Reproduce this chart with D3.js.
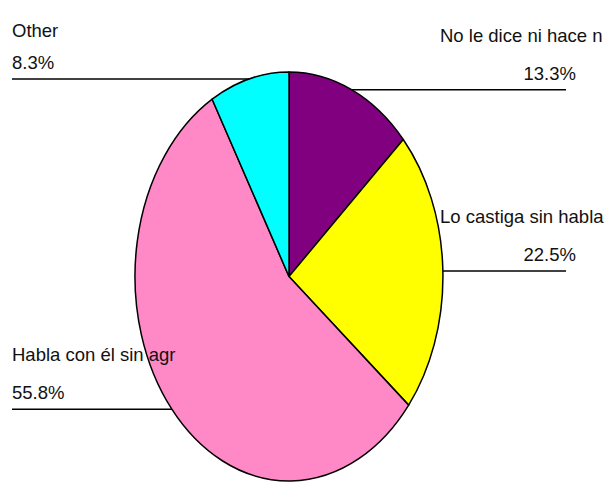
<!DOCTYPE html>
<html>
<head>
<meta charset="utf-8">
<script src="https://cdn.jsdelivr.net/npm/d3@7"></script>
<style>
  html, body { margin: 0; padding: 0; background: #ffffff; }
  svg { display: block; }
  text { font-family: "Liberation Sans", Arial, sans-serif; font-size: 18.5px; fill: #111; }
</style>
</head>
<body>
<svg id="chart" width="609" height="482"></svg>
<script>
// Slice labels (truncated to 20 characters) and their shares in percent
const categories = ["No le dice ni hace n", "Lo castiga sin habla", "Habla con él sin agr", "Other"];
const values = [13.3, 22.5, 55.8, 8.3];
const valueLabels = ["13.3%", "22.5%", "55.8%", "8.3%"];
const colors = ["#800080", "#ffff00", "#ff88c6", "#00ffff"];

const W = 609, H = 482;
const cx = 289, cy = 276.5, rx = 154, ry = 204.5;

const svg = d3.select("#chart");

const pie = d3.pie().sort(null).value(d => d.value).startAngle(0).endAngle(2 * Math.PI);
const slices = pie(categories.map((c, i) => ({ name: c, value: values[i], label: valueLabels[i], color: colors[i] })));

// unit-radius arc, stretched into an ellipse by the group transform
const arc = d3.arc().innerRadius(0).outerRadius(1);

// point on the ellipse edge for a pie angle (0 = 12 o'clock, clockwise)
const edge = a => [cx + rx * Math.sin(a), cy - ry * Math.cos(a)];

// leader lines, drawn under the pie
const leaders = svg.append("g");
const g = svg.append("g").attr("transform", `translate(${cx},${cy}) scale(${rx},${ry})`);
const labels = svg.append("g");

slices.forEach(s => {
  const mid = (s.startAngle + s.endAngle) / 2;
  const [ex, ey] = edge(mid);
  const right = Math.sin(mid) > 0;
  const x1 = right ? 566 : 12;
  leaders.append("line")
    .attr("x1", ex).attr("y1", ey).attr("x2", x1).attr("y2", ey)
    .attr("stroke", "#000").attr("stroke-width", 1.5);
  labels.append("text")
    .attr("x", right ? 576 : 12).attr("y", ey - 10)
    .attr("text-anchor", right ? "end" : "start")
    .text(s.data.label);
  labels.append("text")
    .attr("x", right ? 440 : 12).attr("y", Math.max(ey - 48, 37))
    .text(s.data.name);
});

g.selectAll("path.slice")
  .data(slices)
  .join("path")
  .attr("class", "slice")
  .attr("d", arc)
  .attr("fill", d => d.data.color)
  .attr("stroke", "#000")
  .attr("stroke-width", 1.5)
  .attr("stroke-linejoin", "round")
  .attr("vector-effect", "non-scaling-stroke");
</script>
</body>
</html>
